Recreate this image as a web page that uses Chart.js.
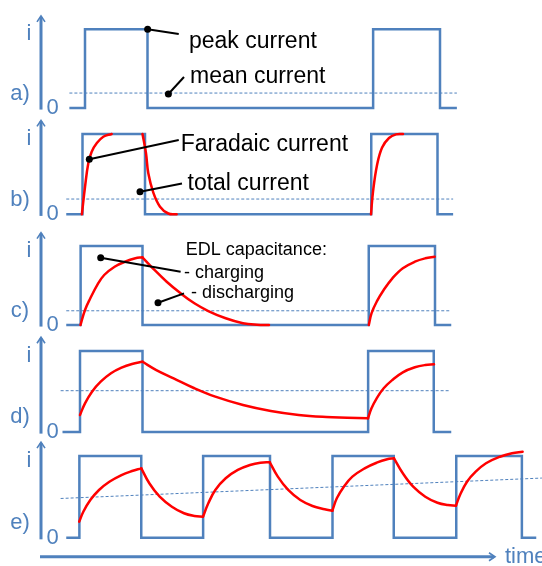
<!DOCTYPE html>
<html><head><meta charset="utf-8">
<script src="https://cdn.jsdelivr.net/npm/chart.js@4.4.1/dist/chart.umd.min.js"></script>
<style>html,body{margin:0;padding:0;background:#fff;}canvas{display:block;}</style>
</head><body>
<canvas id="c" width="542" height="566"></canvas>
<script>
// time: in pulse widths; current: normalised to the peak current
const panelLabels = ['a)', 'b)', 'c)', 'd)', 'e)'];
const yTickLabels = ['0', 'i'];

// square pulse trains (step times and the level after each step)
const waveA_t = [-0.17, 0.08, 1.08, 4.69, 5.76, 6.03];
const waveA_i = [0, 1, 0, 1, 0, 0];
const waveB_t = [-0.22, 0.04, 1.04, 4.66, 5.72, 5.97];
const waveB_i = [0, 1, 0, 1, 0, 0];
const waveC_t = [-0.22, 0.01, 1.00, 4.62, 5.68, 5.94];
const waveC_i = [0, 1, 0, 1, 0, 0];
const waveD_t = [-0.28, 0.00, 1.00, 4.61, 5.66, 5.94];
const waveD_i = [0, 1, 0, 1, 0, 0];
const waveE_t = [-0.22, -0.01, 0.98, 1.97, 3.04, 4.04, 5.02, 6.02, 7.07, 7.30];
const waveE_i = [0, 1, 0, 1, 0, 1, 0, 1, 0, 0];

// mean current (dashed)
const meanA_t = [-0.17, 6.03], meanA_i = [0.19, 0.19];
const meanB_t = [-0.22, 5.97], meanB_i = [0.19, 0.19];
const meanC_t = [-0.22, 5.94], meanC_i = [0.18, 0.18];
const meanD_t = [-0.31, 5.91], meanD_i = [0.51, 0.51];
const meanE_t = [-0.31, 7.39], meanE_i = [0.48, 0.73];

// red current curves, segment by segment: [t, i]
const redB = [
  [[0.03,0],[0.08,0.34],[0.133,0.635],[0.187,0.78],[0.267,0.884],[0.373,0.966],[0.507,1.0]],
  [[1.0,1.0],[1.056,0.76],[1.093,0.51],[1.173,0.27],[1.28,0.095],[1.413,0.01],[1.547,0]],
  [[4.656,0],[4.688,0.28],[4.752,0.61],[4.832,0.83],[4.944,0.95],[5.056,0.995],[5.168,1.0]]
];
const redC = [
  [[0.008,0],[0.08,0.19],[0.165,0.338],[0.275,0.506],[0.387,0.633],[0.554,0.738],[0.72,0.801],[0.886,0.844],[0.998,0.857]],
  [[0.998,0.857],[1.165,0.718],[1.387,0.548],[1.61,0.401],[1.83,0.275],[2.053,0.177],[2.331,0.085],[2.608,0.022],[2.832,0.003],[3.024,0]],
  [[4.621,0],[4.664,0.148],[4.747,0.295],[4.859,0.443],[4.998,0.591],[5.165,0.718],[5.358,0.801],[5.525,0.844],[5.675,0.865]]
];
const redD = [
  [[0,0.21],[0.08,0.354],[0.192,0.498],[0.331,0.621],[0.496,0.725],[0.664,0.794],[0.832,0.84],[0.998,0.868]],
  [[0.998,0.868],[1.221,0.765],[1.498,0.663],[1.83,0.54],[2.165,0.436],[2.608,0.333],[3.053,0.259],[3.498,0.21],[3.942,0.185],[4.275,0.177],[4.608,0.169]],
  [[4.608,0.169],[4.664,0.293],[4.747,0.416],[4.859,0.54],[4.998,0.642],[5.165,0.737],[5.358,0.799],[5.525,0.827],[5.664,0.836]]
];
const redE = [
  [[-0.013,0.196],[0.053,0.318],[0.165,0.461],[0.304,0.584],[0.47,0.685],[0.664,0.767],[0.832,0.816],[0.981,0.849]],
  [[0.981,0.849],[1.109,0.666],[1.275,0.502],[1.47,0.379],[1.664,0.299],[1.83,0.266],[1.968,0.257]],
  [[1.968,0.257],[2.053,0.421],[2.165,0.584],[2.331,0.727],[2.525,0.829],[2.72,0.89],[2.886,0.918],[3.037,0.923]],
  [[3.037,0.923],[3.165,0.747],[3.331,0.584],[3.525,0.461],[3.72,0.388],[3.915,0.348],[4.037,0.33]],
  [[4.037,0.33],[4.109,0.482],[4.221,0.624],[4.358,0.747],[4.554,0.849],[4.747,0.918],[4.915,0.96],[5.024,0.972]],
  [[5.024,0.972],[5.165,0.788],[5.331,0.624],[5.525,0.502],[5.72,0.428],[5.886,0.4],[6.016,0.392]],
  [[6.016,0.392],[6.08,0.523],[6.192,0.685],[6.331,0.808],[6.496,0.911],[6.72,0.991],[6.912,1.033],[7.082,1.053]]
];

// ---------- layout (pixels / styling only) ----------
const W = 542, H = 566;
const panelBase = [108, 214.3, 325, 432, 537.7];
const panelTop  = [29.3, 134, 246, 351, 456];
const tOriginPx = 80, pxPerT = 62.5;
const BLUE = '#4f81bd', RED = '#ff0000';
const FONT = '"Liberation Sans", Arial, Helvetica, sans-serif';

const notes = [
  {p:0, text:'peak current', t:1.744, i:0.839, size:23},
  {p:0, text:'mean current', t:1.76, i:0.394, size:23},
  {p:1, text:'Faradaic current', t:1.61, i:0.863, size:23},
  {p:1, text:'total current', t:1.72, i:0.386, size:23},
  {p:2, text:'EDL capacitance:', t:1.693, i:0.949, size:18},
  {p:2, text:'- charging', t:1.664, i:0.654, size:18},
  {p:2, text:'- discharging', t:1.776, i:0.401, size:18}
];
const pointers = [
  {p:0, from:[1.082,1.0], to:[1.58,0.94]},
  {p:0, from:[1.414,0.178], to:[1.664,0.394]},
  {p:1, from:[0.149,0.685], to:[1.58,0.925]},
  {p:1, from:[0.96,0.281], to:[1.632,0.384]},
  {p:2, from:[0.331,0.852], to:[1.61,0.675]},
  {p:2, from:[1.248,0.282], to:[1.664,0.401]}
];

const zip = (ts, is) => ts.map((t, k) => ({x: t, y: is[k]}));
const waves = [[waveA_t,waveA_i],[waveB_t,waveB_i],[waveC_t,waveC_i],[waveD_t,waveD_i],[waveE_t,waveE_i]];
const means = [[meanA_t,meanA_i],[meanB_t,meanB_i],[meanC_t,meanC_i],[meanD_t,meanD_i],[meanE_t,meanE_i]];
const reds = [[], redB, redC, redD, redE];

const datasets = [];
waves.forEach((w, k) => {
  datasets.push({data: zip(w[0], w[1]), yAxisID: 'y'+k, stepped: 'before',
    borderColor: BLUE, borderWidth: 2.5, pointRadius: 0, order: 3, clip: false,
    borderJoinStyle: 'miter', borderCapStyle: 'butt'});
  datasets.push({data: zip(means[k][0], means[k][1]), yAxisID: 'y'+k,
    borderColor: BLUE, borderWidth: 1, borderDash: [3, 2], pointRadius: 0, order: 2, clip: false});
  reds[k].forEach(seg => {
    datasets.push({data: seg.map(q => ({x: q[0], y: q[1]})), yAxisID: 'y'+k,
      borderColor: RED, borderWidth: 2.5, pointRadius: 0, order: 1, clip: false,
      tension: 0.4, borderCapStyle: 'round', borderJoinStyle: 'round'});
  });
});

const scales = {
  x: {type: 'linear', display: false, min: -tOriginPx / pxPerT, max: (W - tOriginPx) / pxPerT}
};
panelBase.forEach((b, k) => {
  const u = b - panelTop[k];
  const max = b / u;
  scales['y'+k] = {type: 'linear', display: false, max: max, min: max - H / u};
});

const deco = {
  id: 'deco',
  afterDatasetsDraw(chart) {
    const ctx = chart.ctx, xs = chart.scales.x;
    ctx.save();
    const axX = xs.getPixelForValue(-0.624);
    panelLabels.forEach((lab, k) => {
      const ys = chart.scales['y'+k];
      const tip = ys.getPixelForValue(1.17), bot = ys.getPixelForValue(-0.02);
      ctx.strokeStyle = BLUE; ctx.lineWidth = 3; ctx.lineCap = 'butt';
      ctx.beginPath(); ctx.moveTo(axX, bot); ctx.lineTo(axX, tip + 1); ctx.stroke();
      ctx.lineWidth = 1.6;
      ctx.beginPath(); ctx.moveTo(axX - 4, tip + 6); ctx.lineTo(axX, tip); ctx.lineTo(axX + 4, tip + 6); ctx.stroke();
      ctx.fillStyle = BLUE; ctx.textBaseline = 'middle'; ctx.textAlign = 'center';
      ctx.font = '22px ' + FONT;
      ctx.fillText(yTickLabels[1], xs.getPixelForValue(-0.816), ys.getPixelForValue(0.94));
      ctx.fillText(lab, xs.getPixelForValue(-0.96), ys.getPixelForValue(0.18));
      ctx.fillText(yTickLabels[0], xs.getPixelForValue(-0.44), ys.getPixelForValue(0.0));
    });
    // time axis
    const ye = chart.scales.y4;
    const ty = ye.getPixelForValue(-0.233);
    const x0 = xs.getPixelForValue(-0.64), x1 = xs.getPixelForValue(6.64);
    ctx.strokeStyle = BLUE; ctx.lineWidth = 3;
    ctx.beginPath(); ctx.moveTo(x0, ty); ctx.lineTo(x1 - 1, ty); ctx.stroke();
    ctx.lineWidth = 1.6;
    ctx.beginPath(); ctx.moveTo(x1 - 6, ty - 4); ctx.lineTo(x1, ty); ctx.lineTo(x1 - 6, ty + 4); ctx.stroke();
    ctx.fillStyle = BLUE; ctx.textAlign = 'left'; ctx.textBaseline = 'middle';
    ctx.font = '22px ' + FONT;
    ctx.fillText('time', xs.getPixelForValue(6.8), ty);
    // pointers
    pointers.forEach(pt => {
      const ys = chart.scales['y'+pt.p];
      const fx = xs.getPixelForValue(pt.from[0]), fy = ys.getPixelForValue(pt.from[1]);
      const tx = xs.getPixelForValue(pt.to[0]), tyy = ys.getPixelForValue(pt.to[1]);
      ctx.strokeStyle = '#000'; ctx.lineWidth = 2;
      ctx.beginPath(); ctx.moveTo(fx, fy); ctx.lineTo(tx, tyy); ctx.stroke();
      ctx.fillStyle = '#000';
      ctx.beginPath(); ctx.arc(fx, fy, 3.5, 0, Math.PI * 2); ctx.fill();
    });
    notes.forEach(n => {
      const ys = chart.scales['y'+n.p];
      ctx.fillStyle = '#000'; ctx.textAlign = 'left'; ctx.textBaseline = 'middle';
      ctx.font = n.size + 'px ' + FONT;
      ctx.fillText(n.text, xs.getPixelForValue(n.t), ys.getPixelForValue(n.i));
    });
    ctx.restore();
  }
};

new Chart(document.getElementById('c'), {
  type: 'line',
  data: {datasets: datasets},
  options: {
    responsive: false, animation: false, devicePixelRatio: 1,
    layout: {padding: 0},
    plugins: {legend: {display: false}, tooltip: {enabled: false}, title: {display: false}},
    scales: scales,
    events: []
  },
  plugins: [deco]
});
</script>
</body></html>
